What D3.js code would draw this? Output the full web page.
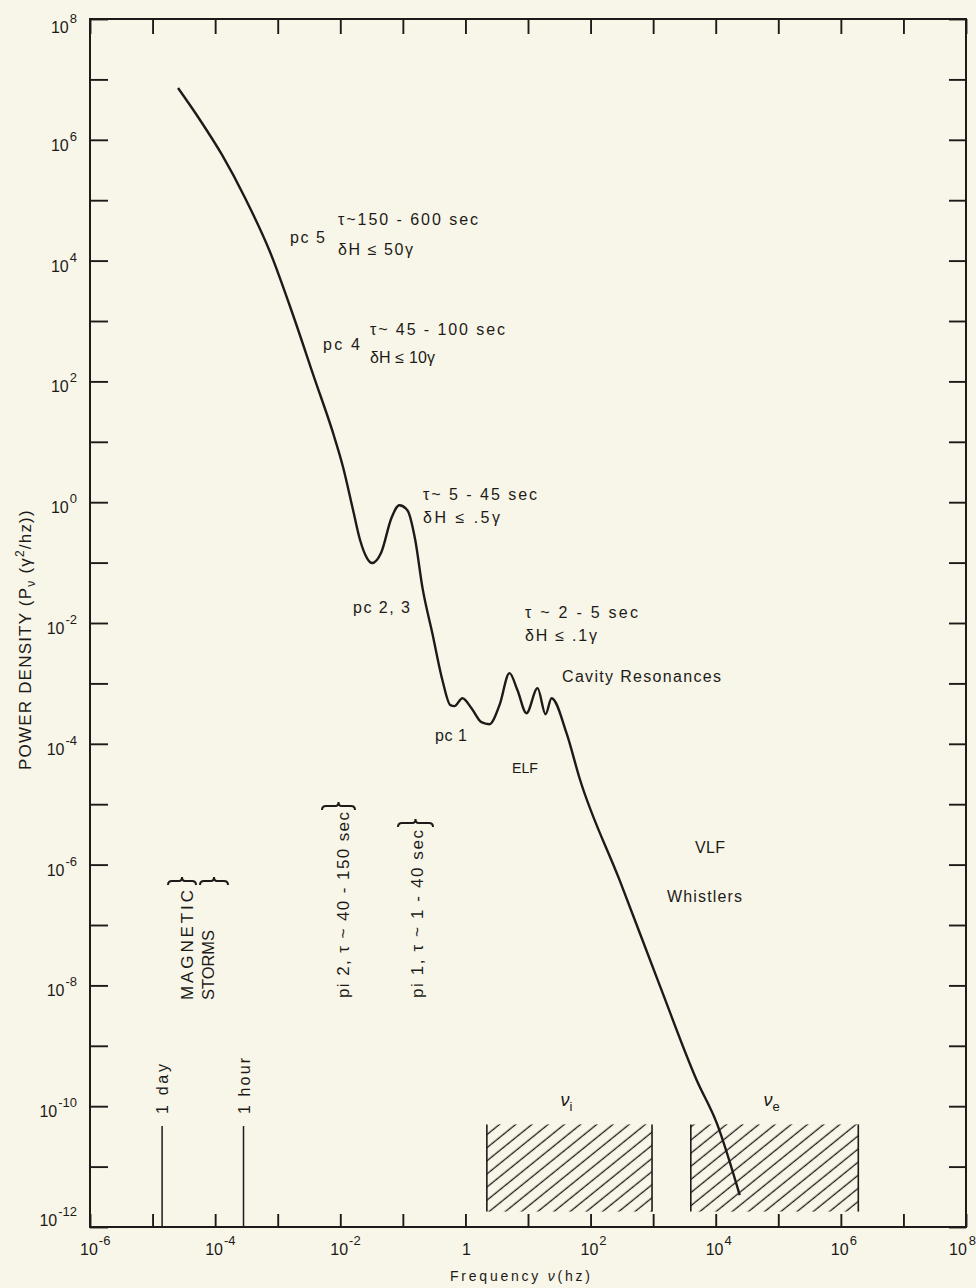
<!DOCTYPE html>
<html><head><meta charset="utf-8">
<script src="https://cdn.jsdelivr.net/npm/d3@7"></script>
<style>
html,body{margin:0;padding:0;background:#f8f6e8;}
svg{display:block;}
text{font-family:"Liberation Sans","DejaVu Sans",sans-serif;fill:#1d1b19;}
</style></head><body>
<svg id="c" width="976" height="1288"></svg>
<script>
// ---- data ----
const freq  = [2.55e-5, 5.73e-5, 1.29e-4, 3.01e-4, 7.54e-4, 1.69e-3, 3.95e-3, 7.66e-3, 0.01106, 0.0160,
               0.0207, 0.0267, 0.0321, 0.0453, 0.0655, 0.0879, 0.118, 0.158, 0.205, 0.296,
               0.429, 0.575, 0.667, 0.895, 1.25, 1.80, 2.42, 3.50, 5.06, 6.79,
               9.46, 14.2, 19.1, 23.8, 41.3, 66.7, 291, 1270, 4970, 1.04e4, 2.42e4];
const power = [7.21e6, 2.13e6, 5.61e5, 1.09e5, 1.39e4, 1.41e3, 105, 14.0, 3.83, 0.743,
               0.237, 0.119, 0.0984, 0.149, 0.543, 0.891, 0.738, 0.235, 0.0392, 6.78e-3,
               1.13e-3, 4.36e-4, 4.2e-4, 5.69e-4, 3.88e-4, 2.28e-4, 2.11e-4, 4.36e-4, 1.48e-3, 7.71e-4,
               3.21e-4, 8.34e-4, 3.09e-4, 5.69e-4, 1.50e-4, 2.69e-5, 5.52e-7, 1.01e-8, 2.69e-10, 5.24e-11, 3.36e-12];
const xLabelExps = [-6, -4, -2, 0, 2, 4, 6, 8];
const yLabelExps = [8, 6, 4, 2, 0, -2, -4, -6, -8, -10, -12];
const bandNames = ["i", "e"];
const bandLow   = [2.2, 4000];
const bandHigh  = [960, 1.9e6];
const bandPowerTop = 5.0e-11, bandPowerBottom = 1.8e-12;
const timeMarkLabels = ["1 day", "1 hour"];
const timeMarkFreq   = [1.42e-5, 2.84e-4];

// ---- scales ----
const svg = d3.select("#c");
const x = d3.scaleLog().domain([1e-6, 1e8]).range([90, 966]);
const y = d3.scaleLog().domain([1e-12, 1e8]).range([1227, 19]);
const ink = "#1d1b19";
const xDecades = d3.range(-6, 9).map(e => Math.pow(10, e));
const yDecades = d3.range(-12, 9).map(e => Math.pow(10, e));

// fit a text to a target width: stretch spacing if short, shrink font if long
function fitText(sel, w, fs) {
  const n = sel.node().getComputedTextLength();
  if (n > w) sel.attr("font-size", fs * w / n);
  else sel.attr("textLength", w).attr("lengthAdjust", "spacing");
}

// hatch pattern
const defs = svg.append("defs");
const pat = defs.append("pattern").attr("id", "hatch").attr("patternUnits", "userSpaceOnUse")
  .attr("width", 10.2).attr("height", 10).attr("patternTransform", "rotate(51)");
pat.append("line").attr("x1", 5).attr("x2", 5).attr("y1", -1).attr("y2", 11)
  .attr("stroke", ink).attr("stroke-width", 1.3);

// ---- axes (ticks inward) ----
function styleAxis(g) {
  g.select(".domain").remove();
  g.selectAll(".tick line").attr("stroke", ink).attr("stroke-width", 1.9);
  g.selectAll(".tick text").remove();
}
svg.append("g").attr("transform", "translate(0,1227)")
  .call(d3.axisBottom(x).tickValues(xDecades).tickSize(-13).tickFormat("")).call(styleAxis);
svg.append("g").attr("transform", "translate(0,19)")
  .call(d3.axisTop(x).tickValues(xDecades).tickSize(-15).tickFormat("")).call(styleAxis);
svg.append("g").attr("transform", "translate(90,0)")
  .call(d3.axisLeft(y).tickValues(yDecades).tickSize(-18).tickFormat("")).call(styleAxis);
svg.append("g").attr("transform", "translate(966,0)")
  .call(d3.axisRight(y).tickValues(yDecades).tickSize(-17).tickFormat("")).call(styleAxis);

// frame
svg.append("rect").attr("x", x(1e-6)).attr("y", y(1e8))
  .attr("width", x(1e8) - x(1e-6)).attr("height", y(1e-12) - y(1e8))
  .attr("fill", "none").attr("stroke", ink).attr("stroke-width", 2);

// ---- tick labels ----
const fmtExp = e => (e < 0 ? "-" + Math.abs(e) : String(e));
xLabelExps.forEach(e => {
  const px = x(Math.pow(10, e));
  if (e === 0) {
    svg.append("text").attr("x", px + 1).attr("y", 1255).attr("text-anchor", "middle")
      .attr("font-size", 16).text("1");
    return;
  }
  const t = svg.append("text").attr("x", e === 8 ? px - 17 : px - 10).attr("y", 1255).attr("font-size", 16);
  t.append("tspan").text("10");
  t.append("tspan").attr("dy", -10).attr("dx", e === 8 ? 2 : 1).attr("font-size", 13).text(fmtExp(e));
});
yLabelExps.forEach(e => {
  const py = y(Math.pow(10, e));
  const off = e === 8 ? 14 : (e === -12 ? -1 : 11);
  const t = svg.append("text").attr("x", 77).attr("y", py + off).attr("text-anchor", "end").attr("font-size", 16);
  t.append("tspan").text("10");
  t.append("tspan").attr("dy", -10).attr("dx", 1).attr("font-size", 13).text(fmtExp(e));
});

// axis titles
const xt = svg.append("text").attr("x", 450).attr("y", 1281)
  .attr("font-size", 14).attr("textLength", 140).attr("lengthAdjust", "spacing");
xt.append("tspan").text("Frequency ");
xt.append("tspan").attr("font-style", "italic").text("ν");
xt.append("tspan").text("(hz)");

const yt = svg.append("text").attr("transform", "translate(31,770) rotate(-90)")
  .attr("font-size", 17).attr("letter-spacing", 1.2);
yt.append("tspan").text("POWER DENSITY (P");
yt.append("tspan").attr("dy", 4).attr("font-size", 12).text("ν");
yt.append("tspan").attr("dy", -4).text(" (γ");
yt.append("tspan").attr("dy", -7).attr("font-size", 12).text("2");
yt.append("tspan").attr("dy", 7).text("/hz))");

// ---- hatched bands ----
bandNames.forEach((nm, i) => {
  const x0 = x(bandLow[i]), x1 = x(bandHigh[i]);
  const y0 = y(bandPowerTop), y1 = y(bandPowerBottom);
  svg.append("rect").attr("x", x0).attr("y", y0).attr("width", x1 - x0).attr("height", y1 - y0)
    .attr("fill", "url(#hatch)");
  [x0, x1].forEach(xx => svg.append("line").attr("x1", xx).attr("x2", xx).attr("y1", y0).attr("y2", y1)
    .attr("stroke", ink).attr("stroke-width", 1.6));
  const lt = svg.append("text").attr("x", (x0 + x1) / 2 - 3).attr("y", y0 - 18)
    .attr("font-size", 18).attr("text-anchor", "middle");
  lt.append("tspan").attr("font-style", "italic").text("ν");
  lt.append("tspan").attr("dy", 5).attr("font-size", 13).text(nm);
});

// ---- time marks ----
timeMarkLabels.forEach((lab, i) => {
  const px = x(timeMarkFreq[i]);
  svg.append("line").attr("x1", px).attr("x2", px).attr("y1", 1126).attr("y2", y(1e-12))
    .attr("stroke", ink).attr("stroke-width", 1.5);
  const t = svg.append("text").attr("transform", `translate(${px + 6},1114) rotate(-90)`)
    .attr("font-size", 16).text(lab);
  fitText(t, i === 0 ? 50 : 56, 16);
});

// ---- spectrum curve ----
const pts = freq.map((f, i) => [f, power[i]]);
svg.append("path").datum(pts)
  .attr("d", d3.line().x(d => x(d[0])).y(d => y(d[1])).curve(d3.curveMonotoneX))
  .attr("fill", "none").attr("stroke", ink).attr("stroke-width", 2.4).attr("stroke-linejoin", "round");

// ---- annotations: text, left x, baseline y, width ----
const notes = [
  ["pc 5", 290, 243, 35], ["τ~150 - 600 sec", 338, 225, 140], ["δH ≤ 50γ", 338, 255, 75],
  ["pc 4", 323, 350, 37], ["τ~ 45 - 100 sec", 370, 335, 135], ["δH ≤ 10γ", 370, 363, 65],
  ["τ~ 5 - 45 sec", 423, 500, 114], ["δH ≤ .5γ", 423, 523, 77],
  ["pc 2, 3", 353, 613, 57], ["τ ~ 2 - 5 sec", 525, 618, 113], ["δH ≤ .1γ", 525, 641, 72],
  ["Cavity Resonances", 562, 682, 159], ["pc 1", 435, 741, 32], ["ELF", 512, 773, 26],
  ["VLF", 695, 853, 30], ["Whistlers", 667, 902, 75]
];
notes.forEach(([t, px, py, w]) => {
  const s = svg.append("text").attr("x", px).attr("y", py).attr("font-size", 16).text(t);
  fitText(s, w, 16);
});

// rotated period labels
const rot = [
  ["MAGNETIC", 193, 1000, 110], ["STORMS", 214, 1000, 70],
  ["pi 2, τ ~ 40 - 150 sec", 349, 998, 186], ["pi 1, τ ~ 1 - 40 sec", 423, 998, 168]
];
rot.forEach(([t, px, py, len]) => {
  const s = svg.append("text").attr("transform", `translate(${px},${py}) rotate(-90)`)
    .attr("font-size", 17).text(t);
  fitText(s, len, 17);
});

// braces (horizontal, pointing up)
function brace(x0, x1, yy) {
  const m = (x0 + x1) / 2;
  const p = `M${x0},${yy + 4} Q${x0},${yy} ${x0 + 4},${yy} L${m - 3},${yy} Q${m},${yy} ${m},${yy - 4} Q${m},${yy} ${m + 3},${yy} L${x1 - 4},${yy} Q${x1},${yy} ${x1},${yy + 4}`;
  svg.append("path").attr("d", p).attr("fill", "none").attr("stroke", ink).attr("stroke-width", 2);
}
brace(168, 196, 881); brace(200, 228, 881); brace(322, 355, 806); brace(398, 433, 823);
</script></body></html>
